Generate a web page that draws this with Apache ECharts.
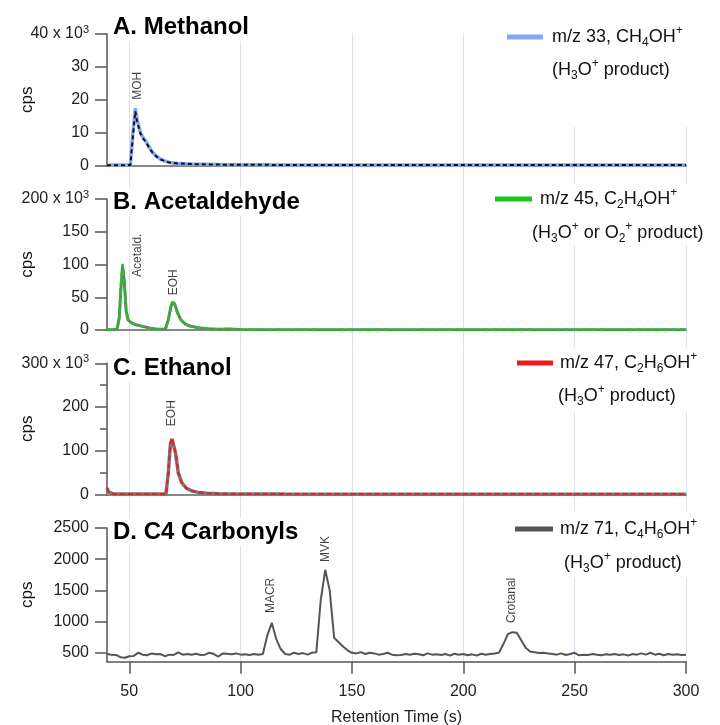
<!DOCTYPE html>
<html>
<head>
<meta charset="utf-8">
<script src="https://cdn.jsdelivr.net/npm/echarts@6/dist/echarts.min.js"></script>
<style>
  html, body { margin: 0; padding: 0; background: #fff; }
  #chart { width: 720px; height: 725px; }
</style>
</head>
<body>
<div id="chart"></div>
<script>
// ---- data ----
var xTicks = [50, 100, 150, 200, 250, 300];

// A. Methanol, m/z 33 (blue) and the dashed overlay
var methTime = [40, 48, 50.5, 51.5, 52.7, 53.5, 55, 56.5, 57.5, 59, 60.5, 62, 64, 66, 68, 72, 78, 90, 120, 300];
var methCps = [200, 200, 300, 9000, 17500, 14000, 10000, 8200, 7400, 5500, 4000, 3000, 2000, 1400, 1000, 700, 500, 350, 250, 200];
var methCpsRef = [150, 150, 250, 8000, 16500, 13500, 9800, 8000, 7200, 5400, 3900, 2900, 1900, 1350, 950, 680, 480, 330, 230, 180];
var methPeakName = ['MOH'];
var methPeakTime = [53.9];
var methPeakCps = [20000];

// B. Acetaldehyde, m/z 45
var acetTime = [40, 43, 44.5, 45.5, 46.3, 47, 47.8, 48.6, 49.5, 51, 53, 56, 59, 62, 65, 66.3, 67.5, 68.7, 69.6, 70.5, 71.5, 73, 75, 77.5, 81, 85, 90, 95, 100, 110, 300];
var acetCps = [300, 500, 1500, 20000, 70000, 101000, 75000, 30000, 15000, 11000, 8000, 5500, 3000, 1500, 1000, 2000, 15000, 35000, 42000, 38000, 27000, 16000, 9000, 5500, 3500, 2000, 1200, 1500, 600, 400, 300];
var acetCpsRef = [300, 500, 1400, 18000, 66000, 97000, 72000, 29000, 15000, 11000, 8000, 5500, 3000, 1500, 1000, 2000, 15500, 36000, 43000, 39000, 28000, 16500, 9500, 5800, 3600, 2100, 1300, 1400, 600, 400, 300];
var acetPeakName = ['Acetald.', 'EOH'];
var acetPeakTime = [53.9, 70];
var acetPeakCps = [81000, 53000];

// C. Ethanol, m/z 47
var ethTime = [40, 40.7, 41.5, 43, 50, 60, 66.5, 67.5, 68.5, 69.2, 70, 70.8, 72, 73.5, 75.5, 78, 81, 85, 90, 100, 120, 300];
var ethCps = [15000, 6000, 1500, 600, 500, 500, 700, 50000, 118000, 128000, 126000, 95000, 50000, 28000, 15000, 8000, 4500, 2500, 1500, 700, 500, 400];
var ethCpsRef = [14000, 5500, 1400, 600, 500, 500, 700, 48000, 116000, 127000, 125000, 94000, 49000, 27000, 14500, 7800, 4400, 2400, 1400, 700, 500, 400];
var ethPeakName = ['EOH'];
var ethPeakTime = [69.2];
var ethPeakCps = [156000];

// D. C4 carbonyls, m/z 71, sampled every 2 s from 40 s
var c4Start = 40;
var c4Step = 2;
var c4Cps = [
  480, 470, 465, 430, 420, 445, 450, 500, 470, 460,
  490, 475, 480, 445, 470, 465, 505, 470, 480, 470,
  485, 465, 470, 500, 480, 440, 490, 485, 475, 490,
  470, 475, 465, 480, 470, 480, 780, 980, 720, 560,
  480, 470, 500, 480, 495, 470, 500, 510, 1350, 1830,
  1500, 740, 670, 600, 540, 500, 490, 510, 480, 500,
  490, 470, 480, 500, 470, 460, 465, 480, 470, 485,
  475, 460, 490, 470, 475, 465, 480, 455, 485, 470,
  480, 460, 475, 455, 485, 470, 480, 490, 500, 640,
  800, 830, 820, 700, 580, 520, 510, 495, 500, 490,
  480, 470, 490, 465, 480, 500, 460, 470, 465, 480,
  470, 460, 475, 470, 480, 465, 475, 455, 480, 470,
  490, 470, 500, 470, 485, 460, 480, 470, 475, 465,
  470
];
var c4Time = c4Cps.map(function (v, i) { return c4Start + i * c4Step; });
var c4PeakName = ['MACR', 'MVK', 'Crotanal'];
var c4PeakTime = [113.3, 138, 221.9];
var c4PeakCps = [1136, 1954, 976];

var c4Ticks = [500, 1000, 1500, 2000, 2500];

// ---- helpers ----
var FONT = "'Liberation Sans', Arial, sans-serif";

function pairs(t, v) {
  return t.map(function (x, i) { return [x, v[i]]; });
}

function kLabel(max) {
  return function (v) {
    return v === max ? (v / 1000) + ' x 10{sup|3}' : String(v / 1000);
  };
}

function lineSeries(idx, t, v, color, width, dash, z) {
  return {
    type: 'line',
    xAxisIndex: idx,
    yAxisIndex: idx,
    data: pairs(t, v),
    showSymbol: false,
    silent: true,
    z: z,
    lineStyle: { color: color, width: width, type: dash || 'solid' }
  };
}

function peakSeries(idx, names, t, v) {
  return {
    type: 'scatter',
    xAxisIndex: idx,
    yAxisIndex: idx,
    data: pairs(t, v),
    symbolSize: 1,
    itemStyle: { color: 'rgba(0,0,0,0)' },
    silent: true,
    z: 5,
    label: {
      show: true,
      position: 'inside',
      rotate: 90,
      align: 'left',
      verticalAlign: 'middle',
      fontSize: 12,
      fontFamily: FONT,
      color: '#111',
      formatter: function (p) { return names[p.dataIndex]; }
    }
  };
}

// panel frames: index 0 is only the shared vertical grid lines
var frames = [
  { top: 33, height: 628.7 },
  { top: 34, height: 131.7 },
  { top: 199, height: 131 },
  { top: 363.3, height: 131 },
  { top: 528, height: 133.7 }
];

var grids = frames.map(function (f) {
  return { left: 107, right: 34, top: f.top, height: f.height, outerBoundsMode: 'none' };
});

var xAxes = frames.map(function (f, i) {
  var ax = {
    type: 'value',
    gridIndex: i,
    min: 40,
    max: 300,
    axisLine: { show: i > 0, onZero: true, lineStyle: { color: i === 4 ? '#555' : '#888', width: i === 4 ? 1.5 : 2 } },
    axisTick: { show: i === 4, customValues: xTicks, length: 12, lineStyle: { color: '#555', width: 1.5 } },
    axisLabel: { show: i === 4, customValues: xTicks, margin: 22, fontSize: 16, color: '#222', fontFamily: FONT },
    splitLine: { show: i === 0, lineStyle: { color: '#dedef7', width: 1 } }
  };
  if (i === 4) {
    ax.name = 'Retention Time (s)';
    ax.nameLocation = 'middle';
    ax.nameGap = 48;
    ax.nameMoveOverlap = false;
    ax.nameTextStyle = { fontSize: 16, color: '#222', fontFamily: FONT };
  }
  return ax;
});

function yAxis(i, max, interval, extra) {
  var ax = {
    type: 'value',
    gridIndex: i,
    min: 0,
    max: max,
    interval: interval,
    name: 'cps',
    nameLocation: 'middle',
    nameGap: 71,
    nameMoveOverlap: false,
    nameTextStyle: { fontSize: 17, color: '#111', fontFamily: FONT },
    axisLine: { show: true, lineStyle: { color: '#555', width: 1.5 } },
    axisTick: { show: true, length: 12, lineStyle: { color: '#555', width: 1.5 } },
    axisLabel: {
      margin: 18,
      fontSize: 16,
      lineHeight: 20,
      color: '#222',
      fontFamily: FONT,
      formatter: kLabel(max),
      rich: { sup: { fontSize: 11, lineHeight: 10, verticalAlign: 'top', color: '#222', fontFamily: FONT } }
    },
    splitLine: { show: false }
  };
  for (var k in extra) ax[k] = extra[k];
  return ax;
}

var yAxes = [
  { type: 'value', gridIndex: 0, min: 0, max: 1, show: false },
  yAxis(1, 40000, 10000),
  yAxis(2, 200000, 50000),
  yAxis(3, 300000, 100000, {
    minorTick: { show: true, splitNumber: 2, length: 7, lineStyle: { color: '#555', width: 1.5 } }
  }),
  yAxis(4, 2500, null, {
    min: 357,
    interval: undefined,
    axisTick: { show: true, customValues: c4Ticks, length: 12, lineStyle: { color: '#555', width: 1.5 } },
    axisLabel: {
      customValues: c4Ticks, margin: 18, fontSize: 16, color: '#222', fontFamily: FONT,
      formatter: function (v) { return String(v); }
    }
  })
];

// titles
var titleText = ['A. Methanol', 'B. Acetaldehyde', 'C. Ethanol', 'D. C4 Carbonyls'];
var titleTop = [13, 188, 354, 518];
var titles = titleText.map(function (t, i) {
  return {
    text: t,
    left: 111,
    top: titleTop[i],
    padding: [2, 4, 2, 2],
    backgroundColor: '#fff',
    textStyle: { fontSize: 24, fontWeight: 'bold', color: '#000', fontFamily: FONT }
  };
});

// legend blocks (sub/superscripts through rich text)
var richLegend = {
  sub: { fontSize: 12, lineHeight: 12, verticalAlign: 'bottom', fill: '#111', fontFamily: FONT },
  sup: { fontSize: 12, lineHeight: 12, verticalAlign: 'top', fill: '#111', fontFamily: FONT }
};

function legendBlock(box, line, color, l1, l2) {
  return [
    { type: 'rect', z: 4, silent: true, shape: box, style: { fill: '#fff' } },
    { type: 'line', z: 5, silent: true, shape: { x1: line[0], y1: line[2], x2: line[1], y2: line[2] },
      style: { stroke: color, lineWidth: 5 } },
    { type: 'text', z: 5, silent: true, x: l1[0], y: l1[1],
      style: { text: l1[2], fontSize: 18, lineHeight: 24, fontFamily: FONT, fill: '#111', verticalAlign: 'middle', rich: richLegend } },
    { type: 'text', z: 5, silent: true, x: l2[0], y: l2[1],
      style: { text: l2[2], fontSize: 18, lineHeight: 24, fontFamily: FONT, fill: '#111', verticalAlign: 'middle', rich: richLegend } }
  ];
}

var graphics = [].concat(
  legendBlock({ x: 505, y: 16, width: 195, height: 111 }, [507, 543, 37], '#84a8f6',
    [552, 37, 'm/z 33, CH{sub|4}OH{sup|+}'], [552, 70, '(H{sub|3}O{sup|+} product)']),
  legendBlock({ x: 492, y: 184, width: 228, height: 61 }, [495, 532, 199], '#1ec51e',
    [540, 199, 'm/z 45, C{sub|2}H{sub|4}OH{sup|+}'], [532, 233, '(H{sub|3}O{sup|+} or O{sub|2}{sup|+} product)']),
  legendBlock({ x: 510, y: 348, width: 195, height: 64 }, [517, 553, 363], '#f01c1c',
    [560, 363, 'm/z 47, C{sub|2}H{sub|6}OH{sup|+}'], [558, 396, '(H{sub|3}O{sup|+} product)']),
  legendBlock({ x: 512, y: 510, width: 198, height: 67 }, [515, 553, 529], '#555555',
    [560, 529, 'm/z 71, C{sub|4}H{sub|6}OH{sup|+}'], [564, 563, '(H{sub|3}O{sup|+} product)'])
);

var series = [
  lineSeries(1, methTime, methCps, '#84a8f6', 3.5, null, 2),
  lineSeries(1, methTime, methCpsRef, '#111', 2, [4, 3], 3),
  peakSeries(1, methPeakName, methPeakTime, methPeakCps),

  lineSeries(2, acetTime, acetCpsRef, '#777', 3, null, 2),
  lineSeries(2, acetTime, acetCps, '#1ec51e', 2.5, [6, 3], 3),
  peakSeries(2, acetPeakName, acetPeakTime, acetPeakCps),

  lineSeries(3, ethTime, ethCpsRef, '#777', 3.5, null, 2),
  lineSeries(3, ethTime, ethCps, '#f01c1c', 2, [5, 3], 3),
  peakSeries(3, ethPeakName, ethPeakTime, ethPeakCps),

  lineSeries(4, c4Time, c4Cps, '#555', 2, null, 2),
  peakSeries(4, c4PeakName, c4PeakTime, c4PeakCps)
];

var myChart = echarts.init(document.getElementById('chart'), null, { renderer: 'canvas' });
myChart.setOption({
  animation: false,
  backgroundColor: '#fff',
  title: titles,
  grid: grids,
  xAxis: xAxes,
  yAxis: yAxes,
  graphic: graphics,
  series: series
});
</script>
</body>
</html>
